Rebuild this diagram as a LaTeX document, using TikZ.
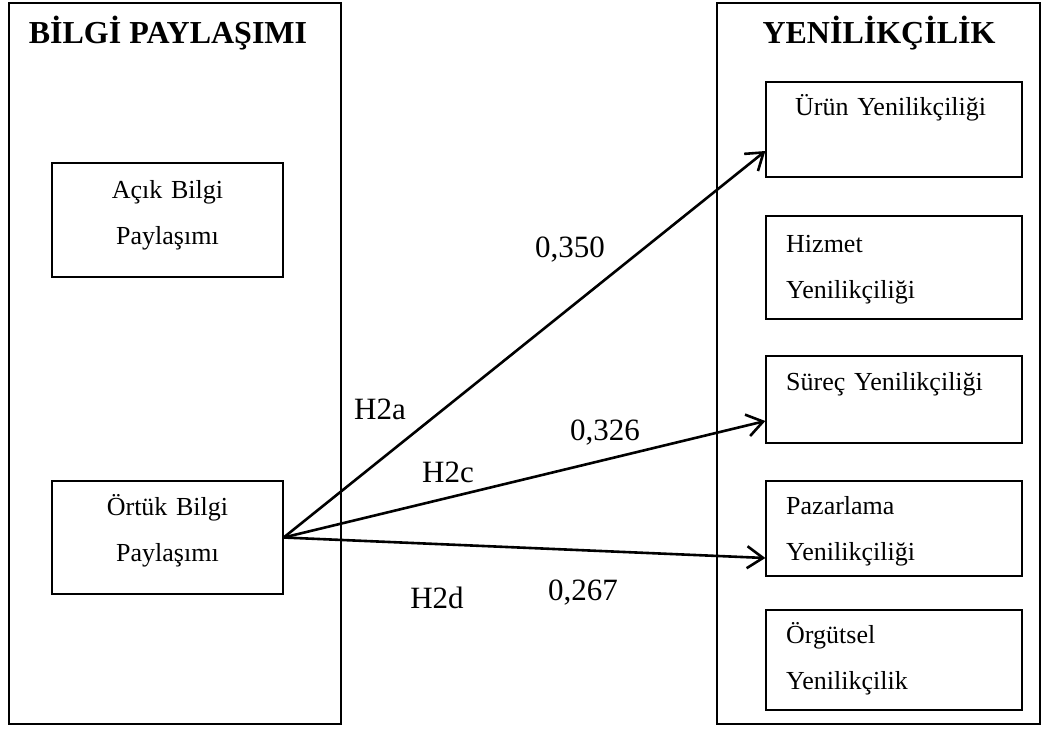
\documentclass[tikz,border=0pt]{standalone}
\usepackage{fontspec}
\setmainfont{Liberation Serif}
\usetikzlibrary{arrows.meta,positioning,calc}

\begin{document}
\begin{tikzpicture}[x=1pt,y=-1pt,
  frame/.style={draw,line width=1.3pt},
  box/.style={draw,line width=1.3pt,inner sep=0pt},
  title/.style={font=\bfseries\fontsize{32}{38}\selectfont,inner sep=0pt,anchor=base},
  midtext/.style={font=\fontsize{26}{46}\selectfont,inner sep=0pt,text width=220pt,align=center,anchor=base},
  lefttext/.style={font=\fontsize{26}{46}\selectfont,inner sep=0pt,text width=220pt,align=left,anchor=base west},
  lbl/.style={font=\fontsize{31}{36}\selectfont,inner sep=0pt,anchor=base},
  link/.style={line width=2.6pt,-{Straight Barb[length=16pt,width=22pt]}}]
  \useasboundingbox (0,0) rectangle (1043,728);

  % the two groups
  \draw[frame] (9,3) rectangle (341,724);
  \draw[frame] (717,3) rectangle (1040,724);
  \node[title] (bilgi) at (168,43) {BİLGİ PAYLAŞIMI};
  \node[title] (yenilik) at (879,43) {YENİLİKÇİLİK};

  % left boxes
  \node[box,minimum width=231pt,minimum height=114pt] (acik) at (167.5,220) {};
  \node[box,minimum width=231pt,minimum height=113pt] (ortuk) at (167.5,537.5) {};
  \node[midtext] (acikt) at (167.5,198) {Açık Bilgi\\Paylaşımı};
  \node[midtext] (ortukt) at (167.5,515) {Örtük Bilgi\\Paylaşımı};

  % right boxes
  \node[box,minimum width=256pt,minimum height=95pt] (urun) at (894,129.5) {};
  \node[box,minimum width=256pt,minimum height=103pt] (hizmet) at (894,267.5) {};
  \node[box,minimum width=256pt,minimum height=87pt] (surec) at (894,399.5) {};
  \node[box,minimum width=256pt,minimum height=95pt] (pazar) at (894,528.5) {};
  \node[box,minimum width=256pt,minimum height=100pt] (orgut) at (894,660) {};
  \node[lefttext] (urunt) at (795,115) {Ürün Yenilikçiliği};
  \node[lefttext] (hizmett) at (786,252) {Hizmet\\Yenilikçiliği};
  \node[lefttext] (surect) at (786,390) {Süreç Yenilikçiliği};
  \node[lefttext] (pazart) at (786,514) {Pazarlama\\Yenilikçiliği};
  \node[lefttext] (orgutt) at (786,643) {Örgütsel\\Yenilikçilik};

  % paths
  \draw[link] (ortuk.east) -- ([yshift=-21.5pt]urun.west);
  \draw[link] (ortuk.east) -- ([yshift=-21.5pt]surec.west);
  \draw[link] (ortuk.east) -- ([yshift=-29.5pt]pazar.west);
  \node[lbl] (h2a) at (380,419) {H2a};
  \node[lbl] (va) at (570,257) {0,350};
  \node[lbl] (h2c) at (448,482) {H2c};
  \node[lbl] (vc) at (605,440) {0,326};
  \node[lbl] (h2d) at (437,608) {H2d};
  \node[lbl] (vd) at (583,600) {0,267};
\end{tikzpicture}
\end{document}
